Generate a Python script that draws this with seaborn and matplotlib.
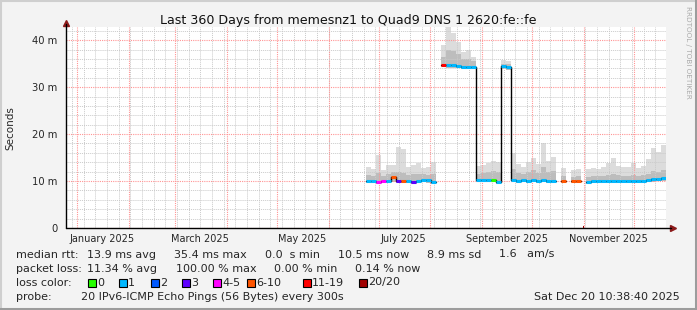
import numpy as np
import pandas as pd
import matplotlib
matplotlib.use("Agg")
import matplotlib.pyplot as plt
import matplotlib.dates as mdates
from matplotlib.patches import Rectangle
from matplotlib.lines import Line2D
import seaborn as sns

# ---------------- data ----------------
title = "Last 360 Days from memesnz1 to Quad9 DNS 1 2620:fe::fe"
end_time = pd.Timestamp("2025-12-20 10:38:40")
span_days = 360
first_bin_day = 180      # first bin with data (days after start of window)
bin_days = 3

median_ms = [10.0, 10.0, 9.9, 10.0, 10.1, 10.8, 10.1, 10.0, 10.0, 9.9,
             10.0, 10.3, 10.2, 9.9, np.nan, 34.8, 34.7, 34.7, 34.6, 34.3,
             34.3, 34.3, 10.3, 10.3, 10.2, 10.3, 9.8, 34.4, 34.2, 10.2,
             10.1, 10.2, 10.1, 10.2, 10.1, 10.2, 10.1, 10.0, np.nan, 10.0,
             np.nan, 10.0, 10.0, np.nan, 9.8, 10.0, 10.0, 10.0, 10.0, 10.1,
             10.0, 10.0, 10.0, 10.0, 10.0, 10.1, 10.2, 10.4, 10.5, 10.6]
max_ms = [13.0, 12.6, 15.5, 12.3, 13.5, 13.4, 17.2, 16.8, 13.0, 13.4,
          13.8, 12.8, 13.0, 14.0, np.nan, 39.0, 42.8, 41.5, 39.5, 37.5,
          37.8, 36.4, 13.2, 13.5, 13.8, 14.2, 14.0, 35.8, 35.6, 16.0,
          13.6, 13.0, 14.0, 15.0, 13.6, 18.0, 14.2, 15.1, np.nan, 12.8,
          np.nan, 12.3, 12.5, np.nan, 12.6, 12.8, 12.6, 13.0, 13.8, 14.9,
          13.2, 12.9, 12.9, 13.8, 12.8, 13.3, 14.6, 17.0, 16.2, 17.7]
p75_ms = [11.3, 11.0, 11.8, 11.0, 11.6, 11.9, 12.0, 11.8, 11.2, 11.4,
          11.5, 11.4, 11.3, 11.4, np.nan, 36.5, 38.0, 37.6, 37.0, 36.0,
          36.0, 35.5, 11.6, 11.8, 12.0, 12.2, 12.0, 35.0, 34.9, 12.5,
          11.8, 11.6, 12.0, 12.4, 11.8, 13.0, 12.0, 12.2, np.nan, 11.0,
          np.nan, 10.9, 11.0, np.nan, 10.9, 11.0, 11.0, 11.1, 11.3, 11.6,
          11.2, 11.1, 11.1, 11.3, 11.0, 11.2, 11.6, 12.2, 12.0, 12.3]
min_ms = [9.5, 9.5, 9.4, 9.5, 9.6, 9.8, 9.6, 9.5, 9.5, 9.4,
          9.5, 9.7, 9.6, 9.4, np.nan, 34.2, 34.1, 34.1, 34.0, 33.8,
          33.8, 33.8, 9.8, 9.8, 9.7, 9.8, 9.3, 33.9, 33.7, 9.7,
          9.6, 9.7, 9.6, 9.7, 9.6, 9.7, 9.6, 9.5, np.nan, 9.5,
          np.nan, 9.5, 9.5, np.nan, 9.3, 9.5, 9.5, 9.5, 9.5, 9.6,
          9.5, 9.5, 9.5, 9.5, 9.5, 9.6, 9.7, 9.9, 10.0, 10.1]
loss_idx = [1, 1, 4, 4, 1, 5, 3, 5, 1, 3,
            1, 1, 1, 1, 1, 6, 1, 1, 1, 1,
            1, 1, 1, 1, 1, 0, 1, 1, 1, 1,
            1, 1, 1, 1, 1, 1, 1, 1, 1, 5,
            1, 5, 5, 7, 1, 1, 1, 1, 1, 1,
            1, 1, 1, 1, 1, 1, 1, 1, 1, 1]

loss_labels = ["0", "1", "2", "3", "4-5", "6-10", "11-19", "20/20"]
loss_colors = ["#26ff00", "#00b8ff", "#0059ff", "#5e00ff",
               "#ff00ff", "#ff5500", "#ff0000", "#a10000"]

month_labels = ["January 2025", "March 2025", "May 2025",
                "July 2025", "September 2025", "November 2025"]
month_label_dates = ["2025-01-16", "2025-03-16", "2025-05-16",
                     "2025-07-16", "2025-09-16", "2025-11-16"]
ytick_vals = [0, 10, 20, 30, 40]
ytick_labels = ["0", "10 m", "20 m", "30 m", "40 m"]

legend_rows = [
    [("median rtt:", 16), ("13.9 ms avg", 87), ("35.4 ms max", 174),
     ("0.0  s min", 265), ("10.5 ms now", 338), ("8.9 ms sd", 427),
     ("1.6   am/s", 499)],
    [("packet loss:", 16), ("11.34 % avg", 87), ("100.00 % max", 176),
     ("0.00 % min", 274), ("0.14 % now", 355)],
]
probe_text = "20 IPv6-ICMP Echo Pings (56 Bytes) every 300s"
stamp_text = "Sat Dec 20 10:38:40 2025"

# ---------------- figure ----------------
sns.set_style("white")
plt.rcParams["font.family"] = ["DejaVu Sans"]

W, H = 697, 310
def fx(px): return px / W
def fy(py): return 1 - py / H

LEG_FS = 8

fig = plt.figure(figsize=(W / 100, H / 100), dpi=100)
fig.patch.set_facecolor("#f3f3f3")

ax = fig.add_axes([fx(66), fy(228), 600 / W, (228 - 27) / H])
ax.set_facecolor("white")

start_time = end_time - pd.Timedelta(days=span_days)
n = len(median_ms)
bin_left = [start_time + pd.Timedelta(days=first_bin_day + bin_days * k) for k in range(n)]
xl = mdates.date2num(bin_left)

med = np.array(median_ms, float)
mx = np.array(max_ms, float)
p75 = np.array(p75_ms, float)
mn = np.array(min_ms, float)

# smoke
ax.bar(xl, mx - mn, bottom=mn, width=bin_days, align="edge",
       color="#dcdcdc", linewidth=0, zorder=1)
ax.bar(xl, p75 - mn, bottom=mn, width=bin_days, align="edge",
       color="#bdbdbd", linewidth=0, zorder=1.2)

# grid (x manual, y via ticks)
minor_col, major_col = "#cacaca", "#ff9494"
dots = (0, (1, 1))
weeks = pd.date_range(start_time.normalize(), end_time, freq="W-SUN")
months = pd.date_range("2025-01-01", end_time, freq="MS")
for d in weeks:
    ax.axvline(mdates.date2num(d), color=minor_col, lw=0.7, ls=dots, zorder=2)
for d in months:
    ax.axvline(mdates.date2num(d), color=major_col, lw=0.8, ls=dots, zorder=2.1)

ax.set_ylim(0, 42.8)
ax.set_xlim(mdates.date2num(start_time), mdates.date2num(end_time))
ax.set_yticks(ytick_vals)
ax.set_yticklabels(ytick_labels)
ax.set_yticks(np.arange(0, 43, 2), minor=True)
ax.grid(which="minor", axis="y", color=minor_col, lw=0.7, ls=dots)
ax.grid(which="major", axis="y", color=major_col, lw=0.8, ls=dots)
ax.set_axisbelow(False)

ax.set_xticks(mdates.date2num(pd.to_datetime(month_label_dates)))
ax.set_xticklabels(month_labels)
ax.tick_params(axis="x", which="both", length=0, pad=4, labelsize=7)
ax.tick_params(axis="y", which="major", length=3, pad=3, labelsize=7.2, color="#444444")
ax.tick_params(axis="y", which="minor", length=0)

# median: black step line per contiguous segment
valid = ~np.isnan(med)
k = 0
while k < n:
    if valid[k]:
        j = k
        while j < n and valid[j]:
            j += 1
        xs = list(xl[k:j]) + [xl[j - 1] + bin_days]
        ys = list(med[k:j]) + [med[j - 1]]
        sns.lineplot(x=xs, y=ys, ax=ax, color="black", linewidth=1,
                     drawstyle="steps-post", estimator=None, sort=False, zorder=4)
        k = j
    else:
        k += 1

# coloured median by loss
for k in range(n):
    c = loss_colors[loss_idx[k]]
    if valid[k]:
        ax.hlines(med[k], xl[k], xl[k] + bin_days, colors=c, lw=2.2, zorder=5)
    elif loss_idx[k] == 7:
        ax.hlines(0.25, xl[k] + 1, xl[k] + 1.8, colors=c, lw=1.5, zorder=5, clip_on=False)

for s in ax.spines.values():
    s.set_visible(False)

# axis lines with arrows
fig.add_artist(Line2D([fx(66), fx(671)], [fy(228), fy(228)], color="black", lw=1))
fig.add_artist(Line2D([fx(66), fx(66)], [fy(228), fy(24)], color="black", lw=1))
ax.plot([1.0 + 7 / 600], [0], marker=">", color="#8b1a1a", markersize=4,
        transform=ax.transAxes, clip_on=False)
ax.plot([0], [1.0 + 4 / 201], marker="^", color="#8b1a1a", markersize=4,
        transform=ax.transAxes, clip_on=False)

# texts
fig.text(fx(348.5), fy(24), title, ha="center", va="baseline", fontsize=9.1, color="#111111")
fig.text(fx(10), fy(128), "Seconds", ha="center", va="center", rotation=90, fontsize=7.5)
fig.text(fx(688), fy(52), "RRDTOOL / TOBI OETIKER", ha="center", va="center",
         rotation=-90, fontsize=5.2, color="#aaaaaa")

base = [257.5, 271.5, 285.5, 299.5]
for row, yb in zip(legend_rows, base[:2]):
    for txt, px in row:
        fig.text(fx(px), fy(yb), txt, ha="left", va="baseline", fontsize=LEG_FS)

fig.text(fx(16), fy(base[2]), "loss color:", ha="left", va="baseline", fontsize=LEG_FS)
box_x = [88, 119, 151, 182, 213, 247, 303, 359]
for bx, lab, col in zip(box_x, loss_labels, loss_colors):
    fig.add_artist(Rectangle((fx(bx), fy(286.5)), 8 / W, 8 / H, transform=fig.transFigure,
                             facecolor=col, edgecolor="black", lw=0.8))
    fig.text(fx(bx + 9), fy(base[2]), lab, ha="left", va="baseline", fontsize=LEG_FS)

fig.text(fx(16), fy(base[3]), "probe:", ha="left", va="baseline", fontsize=LEG_FS)
fig.text(fx(81), fy(base[3]), probe_text, ha="left", va="baseline", fontsize=LEG_FS)
fig.text(fx(680), fy(base[3]), stamp_text, ha="right", va="baseline", fontsize=LEG_FS)

# 3D frame
fig.add_artist(Line2D([0, 1], [fy(1), fy(1)], color="#cfcfcf", lw=1.5))
fig.add_artist(Line2D([fx(1), fx(1)], [0, 1], color="#cfcfcf", lw=1.5))
fig.add_artist(Line2D([0, 1], [fy(308.5), fy(308.5)], color="#9c9c9c", lw=2.2))
fig.add_artist(Line2D([fx(695.5), fx(695.5)], [0, 1], color="#9c9c9c", lw=2.2))

fig.savefig("out.png", dpi=100, facecolor=fig.get_facecolor())
